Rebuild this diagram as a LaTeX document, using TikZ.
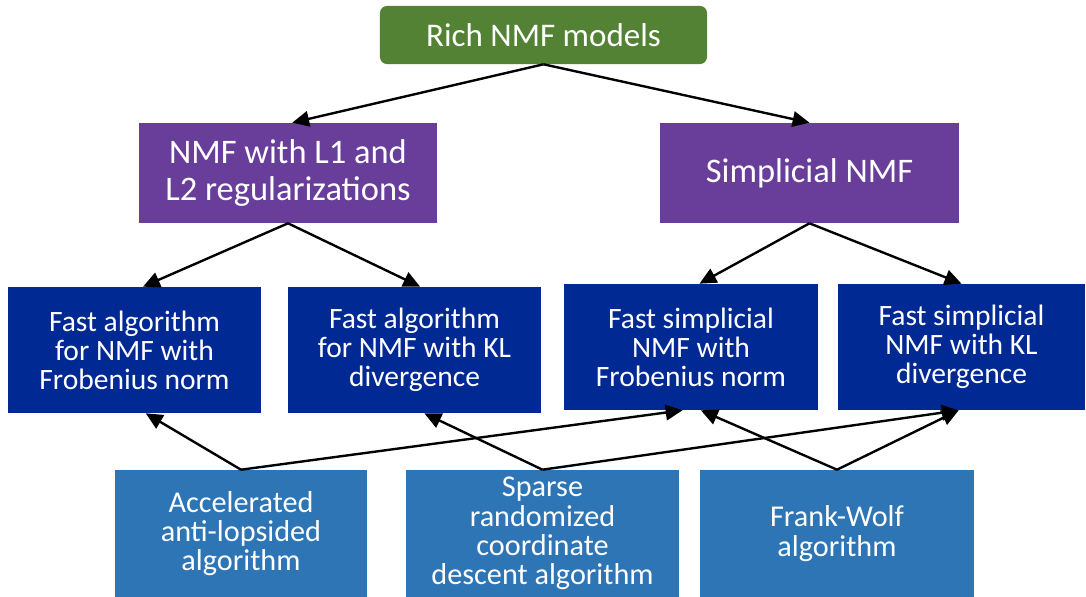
\documentclass[tikz,border=0pt]{standalone}
\usepackage{fontspec}
\setmainfont{Carlito}
\usetikzlibrary{arrows.meta}
\definecolor{nmfgreen}{RGB}{84,130,53}
\definecolor{nmfpurple}{RGB}{104,62,154}
\definecolor{nmfnavy}{RGB}{0,41,147}
\definecolor{nmfblue}{RGB}{46,117,182}

\begin{document}
\begin{tikzpicture}[x=0.025cm,y=-0.025cm,
  box/.style={inner sep=0pt,align=center,text=white},
  modelbox/.style={box,fill=nmfgreen,rounded corners=5pt,minimum width=8.175cm,minimum height=1.45cm,font=\fontsize{23.5}{27}\selectfont},
  probbox/.style={box,fill=nmfpurple,minimum width=7.45cm,minimum height=2.5cm,font=\fontsize{24.5}{27}\selectfont},
  algbox/.style={box,fill=nmfnavy,minimum width=6.325cm,minimum height=3.15cm,font=\fontsize{21}{20.6}\selectfont},
  solvbox/.style={box,fill=nmfblue,minimum width=6.3cm,minimum height=3.175cm,font=\fontsize{21.5}{20.8}\selectfont},
  arr/.style={-{Triangle[length=12pt,width=11pt]},line width=1.7pt}]
  \useasboundingbox (0,0) rectangle (1086,597);
  \node[modelbox] (rich) at (543.5,35) {Rich NMF models};
  \node[probbox] (reg) at (288,173) {NMF with L1 and\\L2 regularizations};
  \node[probbox] (simp) at (809.5,173) {Simplicial NMF};
  \node[algbox] (fro) at (134.5,350) {Fast algorithm\\for NMF with\\Frobenius norm};
  \node[algbox] (kl) at (414.5,350) {Fast algorithm\\for NMF with KL\\divergence};
  \node[algbox] (sfro) at (691,347) {Fast simplicial\\NMF with\\Frobenius norm};
  \node[algbox,minimum width=6.175cm] (skl) at (961.5,347) {Fast simplicial\\NMF with KL\\divergence};
  \node[solvbox] (aal) at (241,533.5) {Accelerated\\anti-lopsided\\algorithm};
  \node[solvbox,minimum width=6.825cm] (src) at (542.5,533.5) {Sparse\\randomized\\coordinate\\descent algorithm};
  \node[solvbox,minimum width=6.85cm] (fw) at (837,533.5) {Frank-Wolf\\algorithm};

  \draw[arr] (rich.south) -- ([xshift=3pt]reg.north);
  \draw[arr] (rich.south) -- (simp.north);
  \draw[arr] (reg.south) -- ([xshift=6pt]fro.north);
  \draw[arr] (reg.south) -- ([xshift=4pt]kl.north);
  \draw[arr] (simp.south) -- ([xshift=6pt]sfro.north);
  \draw[arr] (simp.south) -- (skl.north);
  \draw[arr] (aal.north) -- ([xshift=8pt]fro.south);
  \draw[arr] (aal.north) -- ([xshift=-6pt]sfro.south);
  \draw[arr] (src.north) -- ([xshift=7pt]kl.south);
  \draw[arr] (src.north) -- ([xshift=-2pt]skl.south);
  \draw[arr] (fw.north) -- ([xshift=7pt]sfro.south);
  \draw[arr] (fw.north) -- ([xshift=-2pt]skl.south);
\end{tikzpicture}
\end{document}
